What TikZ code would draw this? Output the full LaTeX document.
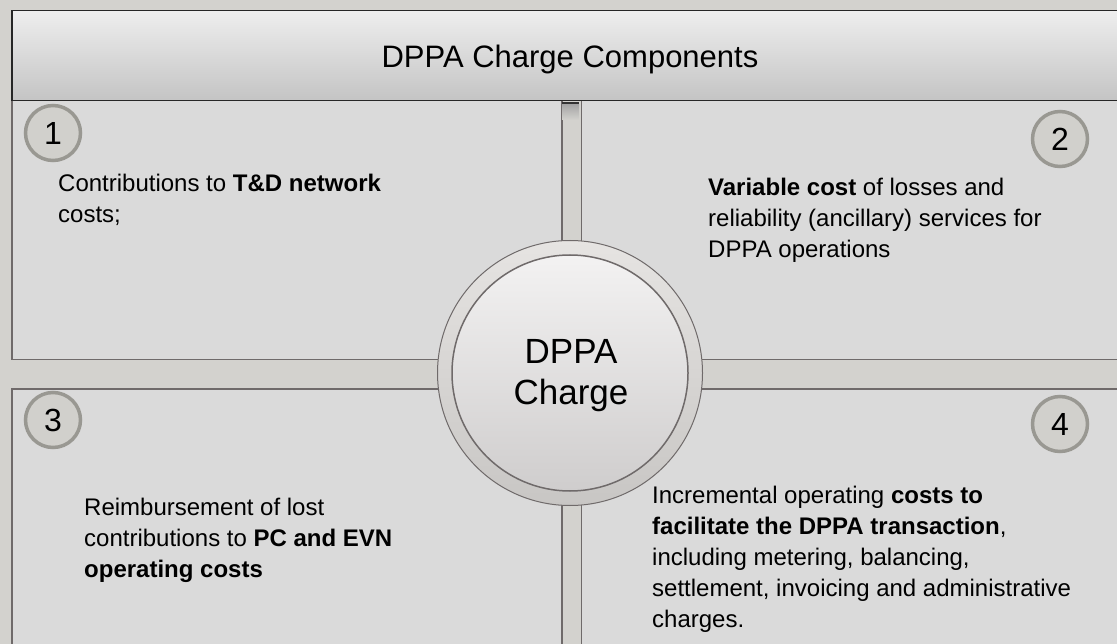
\documentclass[tikz,border=0pt]{standalone}
\usepackage{fontspec}
\setmainfont{Liberation Sans}
\usetikzlibrary{positioning,shapes}

\definecolor{bgcol}{HTML}{D3D2CE}
\definecolor{panelgrey}{HTML}{DADADA}
\definecolor{edgegrey}{HTML}{6F6A6A}
\definecolor{ringgrey}{HTML}{999892}
\definecolor{ringfill}{HTML}{D1D0CC}
\definecolor{headtop}{HTML}{EEEEEE}
\definecolor{headbot}{HTML}{C4C4C4}
\definecolor{ringtop}{HTML}{E6E4E2}
\definecolor{ringbot}{HTML}{C8C6C4}
\definecolor{hubtop}{HTML}{F3F2F2}
\definecolor{hubbot}{HTML}{CFCDCD}

\begin{document}
\begin{tikzpicture}[x=1pt, y=-1pt,
  panel/.style={draw=edgegrey, line width=1.5pt, fill=panelgrey, minimum width=550pt, minimum height=259pt, inner sep=0pt},
  headbox/.style={draw=black!85, line width=1.5pt, top color=headtop, bottom color=headbot, minimum width=1125pt, minimum height=90pt, inner sep=0pt},
  numring/.style={circle, draw=ringgrey, line width=3.5pt, fill=ringfill, minimum size=55pt, inner sep=0pt, font=\fontsize{32}{32}\selectfont},
  bodytext/.style={anchor=base west, align=left, inner sep=0pt, font=\fontsize{24}{31}\selectfont},
  node distance=18pt]
    \useasboundingbox (0,0) rectangle (1117,644);
    \clip (0,0) rectangle (1117,644);
    \fill[bgcol] (0,0) rectangle (1117,644);

    \node[panel, anchor=north west] (p1) at (11,100) {};
    \node[panel, right=18pt of p1] (p2) {};
    \node[panel, below=28pt of p1] (p3) {};
    \node[panel, right=18pt of p3] (p4) {};

    \fill[black!80] (562,102.5) rectangle (579,104.5);
    \shade[top color=black!35, bottom color=bgcol] (562,104.5) rectangle (579,120);

    \node[headbox, anchor=north west] (head) at (11,10) {};
    \node[anchor=base, inner sep=0pt, font=\fontsize{31}{31}\selectfont] (title) at (570,68) {DPPA Charge Components};

    \node[circle, draw=edgegrey, line width=1pt, top color=ringtop, bottom color=ringbot, minimum size=265pt, inner sep=0pt] (ring) at (570,373) {};
    \node[circle, draw=edgegrey, line width=1.5pt, top color=hubtop, bottom color=hubbot, minimum size=236pt, inner sep=0pt] (hub) at (ring.center) {};
    \node[anchor=base, align=center, inner sep=0pt, font=\fontsize{35}{41}\selectfont] (hublabel) at (571,405) {DPPA\\Charge};

    \node[numring] (n1) at (53,133) {1};
    \node[numring] (n2) at (1060,139) {2};
    \node[numring] (n3) at (53,420) {3};
    \node[numring] (n4) at (1060,424) {4};

    \node[bodytext] (t1) at (58,223) {Contributions to \textbf{T\&D network}\\costs;};
    \node[bodytext] (t2) at (708,258) {\textbf{Variable cost} of losses and\\reliability (ancillary) services for\\DPPA operations};
    \node[bodytext] (t3) at (84,577) {Reimbursement of lost\\contributions to \textbf{PC and EVN}\\\textbf{operating costs}};
    \node[bodytext] (t4) at (652,627) {Incremental operating \textbf{costs to}\\\textbf{facilitate the DPPA transaction},\\including metering, balancing,\\settlement, invoicing and administrative\\charges.};
\end{tikzpicture}
\end{document}
